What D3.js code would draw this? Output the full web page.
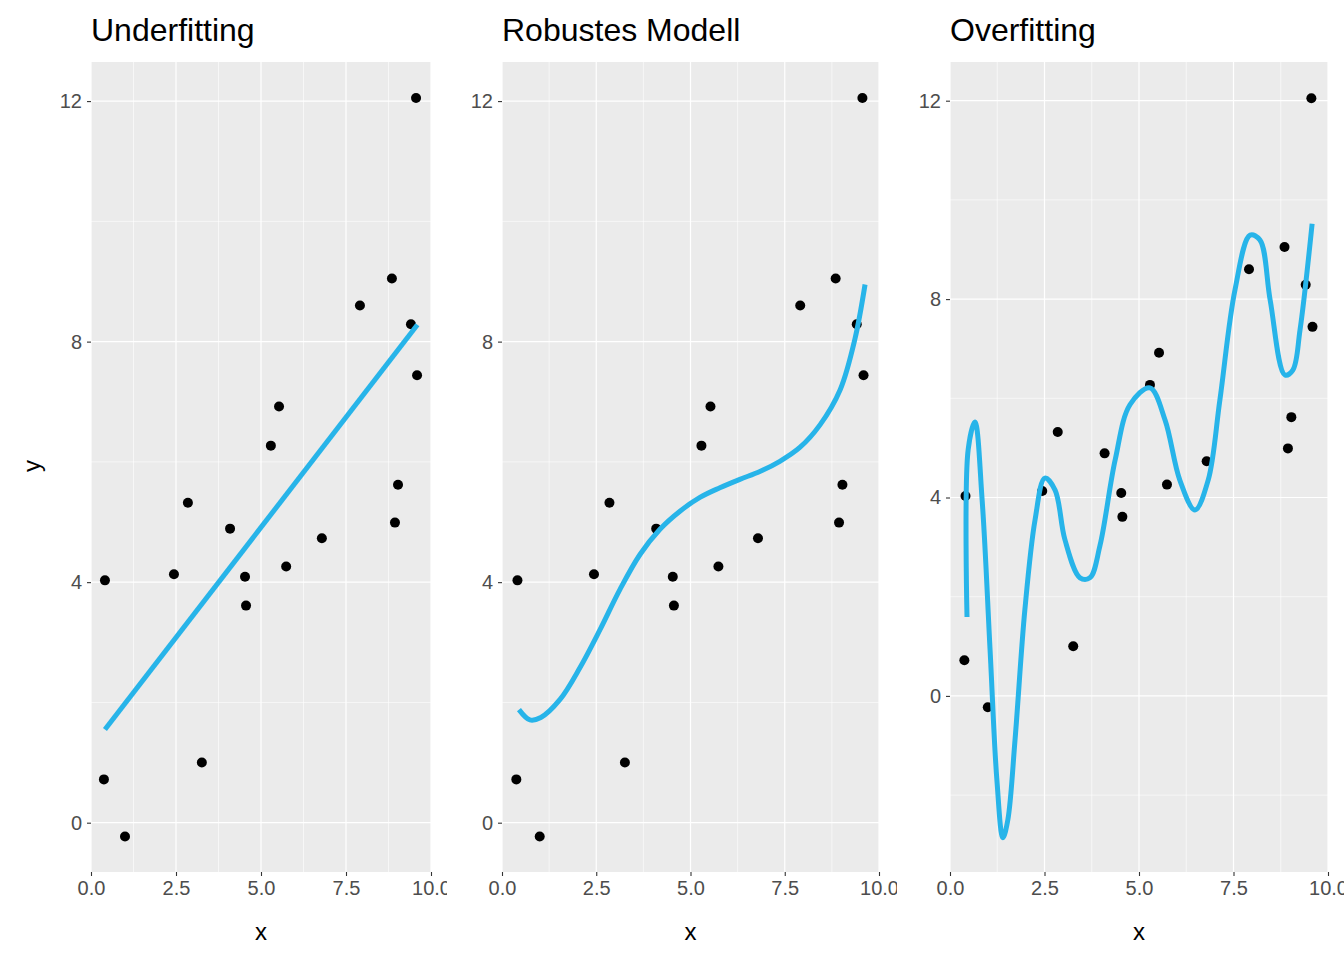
<!DOCTYPE html>
<html><head><meta charset="utf-8">
<script src="https://cdn.jsdelivr.net/npm/d3@7"></script>
<style>body{margin:0;background:#fff}text{font-family:"Liberation Sans",Arial,sans-serif}</style>
</head><body><svg id="c" width="1344" height="960"></svg>
<script>
// observed data points (same in every panel)
var ptX = [0.41,0.38,1.0,2.44,2.85,3.26,4.09,4.53,4.56,5.29,5.53,5.74,6.79,7.91,8.85,9.41,9.03,8.94,9.59,9.56];
var ptY = [4.03,0.72,-0.23,4.13,5.32,1.0,4.89,4.09,3.61,6.27,6.92,4.26,4.73,8.6,9.05,8.29,5.62,4.99,7.44,12.05];

// fitted curves
var linX = [0.41,9.6], linY = [1.55,8.28];
var robX = [0.45,0.74,1.03,1.54,2.07,2.6,3.13,3.66,4.19,4.72,5.25,5.78,6.31,6.84,7.37,7.9,8.44,8.97,9.36,9.63];
var robY = [1.88,1.71,1.75,2.05,2.58,3.21,3.88,4.46,4.88,5.18,5.41,5.57,5.71,5.84,6.01,6.24,6.62,7.2,8.04,8.95];
var ovX = [0.45,0.48,0.66,0.85,1.06,1.24,1.4,1.53,1.72,1.98,2.25,2.51,2.78,3.04,3.44,3.7,3.97,4.37,4.76,5.29,5.69,6.08,6.48,6.83,7.14,7.54,7.94,8.2,8.47,8.86,9.07,9.26,9.58];
var ovY = [1.59,4.96,5.52,3.95,0.93,-1.69,-2.86,-2.5,-0.89,1.73,3.55,4.39,4.15,3.15,2.38,2.38,3.04,4.76,5.87,6.21,5.56,4.35,3.75,4.35,5.97,8.19,9.29,9.19,7.98,6.47,6.57,7.38,9.52];

var titles = ["Underfitting","Robustes Modell","Overfitting"];
var xTicks = [0,2.5,5,7.5,10];
var yTicks1 = [0,4,8,12], yTicks3 = [0,4,8,12];

var panels = [
  {title:titles[0], x0:91, x1:431, yd:[-0.82,12.65], yt:yTicks1, ym:[2,6,10], cx:linX, cy:linY, clipR:447},
  {title:titles[1], x0:502, x1:879, yd:[-0.82,12.65], yt:yTicks1, ym:[2,6,10], cx:robX, cy:robY, clipR:897},
  {title:titles[2], x0:950, x1:1328, yd:[-3.55,12.78], yt:yTicks3, ym:[-2,2,6,10], cx:ovX, cy:ovY, clipR:1344}
];
var plotTop = 62, plotBottom = 872;
var svg = d3.select("#c");

panels.forEach(function(p, i) {
  var x = d3.scaleLinear().domain([0,10]).range([p.x0, p.x1]);
  var y = d3.scaleLinear().domain(p.yd).range([plotBottom, plotTop]);
  var cid = "clip" + i;
  svg.append("clipPath").attr("id", cid).append("rect")
    .attr("x", p.x0 - 60).attr("y", 0).attr("width", p.clipR - p.x0 + 60).attr("height", 960);
  var g = svg.append("g").attr("clip-path", "url(#" + cid + ")");

  g.append("rect").attr("x", p.x0).attr("y", plotTop).attr("width", p.x1 - p.x0).attr("height", plotBottom - plotTop).attr("fill", "#EBEBEB");
  [1.25,3.75,6.25,8.75].forEach(function(v){
    g.append("line").attr("x1", x(v)).attr("x2", x(v)).attr("y1", plotTop).attr("y2", plotBottom).attr("stroke", "#fff").attr("stroke-width", 0.6);
  });
  p.ym.forEach(function(v){
    g.append("line").attr("x1", p.x0).attr("x2", p.x1).attr("y1", y(v)).attr("y2", y(v)).attr("stroke", "#fff").attr("stroke-width", 0.6);
  });
  xTicks.forEach(function(v){
    g.append("line").attr("x1", x(v)).attr("x2", x(v)).attr("y1", plotTop).attr("y2", plotBottom).attr("stroke", "#fff").attr("stroke-width", 1.2);
  });
  p.yt.forEach(function(v){
    g.append("line").attr("x1", p.x0).attr("x2", p.x1).attr("y1", y(v)).attr("y2", y(v)).attr("stroke", "#fff").attr("stroke-width", 1.2);
  });

  g.selectAll(".pt").data(ptX).enter().append("circle")
    .attr("cx", function(d){ return x(d); })
    .attr("cy", function(d, j){ return y(ptY[j]); })
    .attr("r", 5).attr("fill", "#000");

  var line = d3.line().curve(d3.curveCatmullRom)
    .x(function(d){ return x(d); })
    .y(function(d, j){ return y(p.cy[j]); });
  g.append("path").attr("d", line(p.cx)).attr("fill", "none")
    .attr("stroke", "#27B4E9").attr("stroke-width", 5);

  // axes
  var xa = g.append("g").attr("transform", "translate(0," + plotBottom + ")")
    .call(d3.axisBottom(x).tickValues(xTicks).tickFormat(d3.format(".1f")).tickSize(4).tickPadding(5));
  var ya = g.append("g").attr("transform", "translate(" + p.x0 + ",0)")
    .call(d3.axisLeft(y).tickValues(p.yt).tickFormat(d3.format("d")).tickSize(4).tickPadding(5));
  [xa, ya].forEach(function(a){
    a.select(".domain").remove();
    a.selectAll("line").attr("stroke", "#333").attr("stroke-width", 1.1);
    a.selectAll("text").attr("fill", "#4D4D4D").style("font-size", "20px");
  });

  g.append("text").attr("x", p.x0).attr("y", 41).style("font-size", "32px").attr("fill", "#000").text(p.title);
  g.append("text").attr("x", (p.x0 + p.x1) / 2).attr("y", 940).attr("text-anchor", "middle").style("font-size", "24px").text("x");
});

svg.append("text").attr("transform", "translate(40,466) rotate(-90)").attr("text-anchor", "middle").style("font-size", "24px").text("y");
</script></body></html>
